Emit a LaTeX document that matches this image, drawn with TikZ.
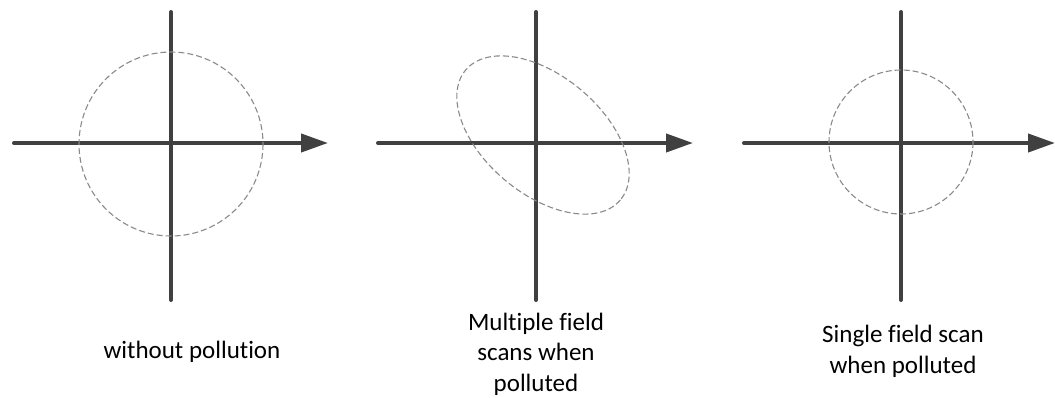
\documentclass[tikz,border=0pt]{standalone}
\usepackage{fontspec}
\setmainfont{Carlito}[Ligatures={NoCommon}]
\usetikzlibrary{arrows.meta}
\definecolor{axisgray}{HTML}{404040}
\definecolor{dashgray}{HTML}{8A8A8A}
\tikzset{
  axisline/.style={draw=axisgray, line width=4pt, line cap=round},
  axisarrow/.style={axisline, -{Triangle[length=27pt,width=18pt]}},
  scanpath/.style={draw=dashgray, line width=1.1pt, dash pattern=on 6pt off 3pt},
  caption/.style={font=\fontsize{25}{30.5}\selectfont, text=black, align=center, inner sep=0pt, anchor=base}
}
\begin{document}
\begin{tikzpicture}[x=1pt, y=-1pt]
\useasboundingbox (0,0) rectangle (1055,397);
% panel 1
\coordinate (v1t) at (171,12);
\coordinate (v1b) at (171,300);
\coordinate (h1l) at (14,143);
\coordinate (h1r) at (328,143);
\draw[axisline] (v1t) -- (v1b);
\draw[axisarrow] (h1l) -- (h1r);
\draw[scanpath] (171,144) circle[radius=92];
\node[caption] (c1) at (192,358) {without pollution};
% panel 2
\coordinate (v2t) at (536,12);
\coordinate (v2b) at (536,300);
\coordinate (h2l) at (378,143);
\coordinate (h2r) at (693,143);
\draw[axisline] (v2t) -- (v2b);
\draw[axisarrow] (h2l) -- (h2r);
\draw[scanpath] (543,135) ellipse[x radius=101, y radius=59, rotate=-40];
\node[caption] (c2) at (536,391) {Multiple field\\scans when\\polluted};
% panel 3
\coordinate (v3t) at (901,12);
\coordinate (v3b) at (901,300);
\coordinate (h3l) at (744,143);
\coordinate (h3r) at (1055,143);
\draw[axisline] (v3t) -- (v3b);
\draw[axisarrow] (h3l) -- (h3r);
\draw[scanpath] (901,142) circle[radius=72];
\node[caption] (c3) at (903,373) {Single field scan\\when polluted};
\end{tikzpicture}
\end{document}
